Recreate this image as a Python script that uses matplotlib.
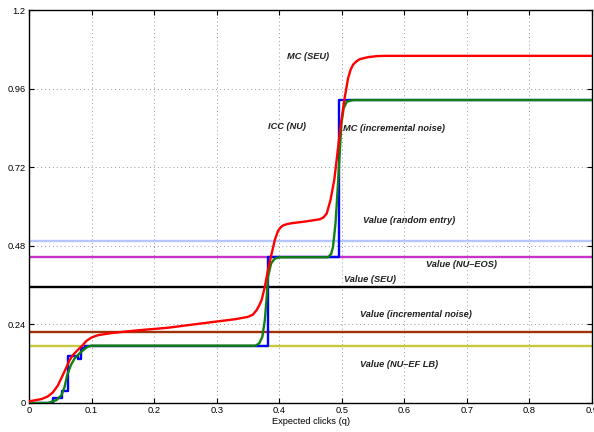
import matplotlib
matplotlib.use("Agg")
import matplotlib.pyplot as plt

plt.rcParams['font.family'] = ['Liberation Sans', 'DejaVu Sans']

# MC (SEU) - red
red_q = [0, 0.02, 0.03, 0.038, 0.046, 0.054, 0.06, 0.065, 0.07, 0.078, 0.086, 0.092, 0.1, 0.11,
         0.13, 0.169, 0.223, 0.276, 0.33, 0.35, 0.358, 0.364, 0.368, 0.372, 0.377, 0.382,
         0.388, 0.393, 0.398, 0.402, 0.406, 0.412, 0.42, 0.441, 0.465, 0.471, 0.476, 0.482,
         0.488, 0.493, 0.498, 0.504, 0.51, 0.514, 0.518, 0.524, 0.529, 0.542, 0.555, 0.569, 0.9]
red_v = [0.005, 0.012, 0.02, 0.032, 0.053, 0.085, 0.11, 0.131, 0.146, 0.162, 0.177, 0.19, 0.2,
         0.207, 0.213, 0.221, 0.23, 0.243, 0.256, 0.263, 0.27, 0.284, 0.298, 0.315, 0.355,
         0.406, 0.457, 0.498, 0.525, 0.536, 0.542, 0.546, 0.549, 0.554, 0.561, 0.567, 0.579,
         0.62, 0.681, 0.762, 0.844, 0.925, 0.991, 1.017, 1.033, 1.044, 1.05, 1.056, 1.059,
         1.06, 1.06]

# MC (incremental noise) - green
green_q = [0, 0.03, 0.044, 0.052, 0.057, 0.061, 0.067, 0.073, 0.081, 0.089, 0.094, 0.1, 0.362,
           0.368, 0.373, 0.377, 0.380, 0.382, 0.387, 0.393, 0.401, 0.478, 0.483, 0.486, 0.490,
           0.494, 0.497, 0.4995, 0.503, 0.508, 0.518, 0.9]
green_v = [0, 0, 0.009, 0.024, 0.05, 0.085, 0.116, 0.136, 0.152, 0.165, 0.172, 0.175, 0.175,
           0.182, 0.202, 0.253, 0.324, 0.385, 0.426, 0.441, 0.445, 0.445, 0.455, 0.477, 0.549,
           0.671, 0.773, 0.854, 0.9, 0.92, 0.925, 0.925]

# ICC (NU) - blue staircase
blue_q = [0, 0.039, 0.052, 0.062, 0.079, 0.083, 0.09, 0.382, 0.496, 0.9]
blue_v = [0, 0.015, 0.038, 0.145, 0.133, 0.168, 0.175, 0.445, 0.925, 0.925]

# constant values
value_names = ["random entry", "NU\u2013EOS", "SEU", "incremental noise", "NU\u2013EF LB"]
value_levels = [0.495, 0.445, 0.354, 0.217, 0.175]
value_colors = ["#b4c8ff", "#c832c8", "#000000", "#a0320a", "#c8c83c"]

labels = ["MC (SEU)", "ICC (NU)", "MC (incremental noise)", "Value (random entry)",
          "Value (NU\u2013EOS)", "Value (SEU)", "Value (incremental noise)", "Value (NU\u2013EF LB)"]
label_q = [0.446, 0.413, 0.502, 0.607, 0.692, 0.5455, 0.619, 0.592]
label_v = [1.057, 0.844, 0.839, 0.556, 0.424, 0.378, 0.271, 0.118]
label_ha = ["center", "center", "left", "center", "center", "center", "center", "center"]

fig = plt.figure(figsize=(5.94, 4.32), dpi=100)
ax = fig.add_axes([29 / 594, 29 / 432, 563 / 594, 393 / 432])

for lvl, col in zip(value_levels, value_colors):
    ax.plot([0, 0.9], [lvl, lvl], color=col, lw=1.7, zorder=2)

ax.plot(blue_q, blue_v, color="#0000ff", lw=1.7, drawstyle="steps-post", zorder=3)
ax.plot(green_q, green_v, color="#108010", lw=1.7, zorder=3)
ax.plot(red_q, red_v, color="#ff0000", lw=1.7, zorder=4)

for txt, q, v, ha in zip(labels, label_q, label_v, label_ha):
    ax.text(q, v, txt, ha=ha, va="center", fontsize=6.7, fontweight="bold",
            style="italic", color="#202020", zorder=5)

ax.set_xlim(0, 0.9)
ax.set_ylim(0, 1.2)
ax.set_xticks([0, 0.1, 0.2, 0.3, 0.4, 0.5, 0.6, 0.7, 0.8, 0.9])
ax.set_xticklabels(["0", "0.1", "0.2", "0.3", "0.4", "0.5", "0.6", "0.7", "0.8", "0.9"])
ax.set_yticks([0, 0.24, 0.48, 0.72, 0.96, 1.2])
ax.set_yticklabels(["0", "0.24", "0.48", "0.72", "0.96", "1.2"])
ax.tick_params(direction="in", length=3.5, width=0.8, top=True, right=True,
               labelsize=6.7, pad=2.5, colors="#000000")
ax.grid(True, color="#999999", linestyle=(0, (1, 3)), lw=0.7)
for s in ax.spines.values():
    s.set_linewidth(1.0)
ax.set_xlabel("Expected clicks (q)", fontsize=6.7, labelpad=1)

plt.savefig("out.png", dpi=100)
plt.close()
